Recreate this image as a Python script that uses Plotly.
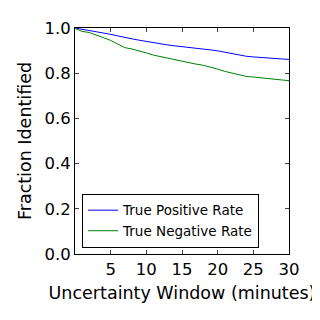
import plotly.graph_objects as go

minutes = list(range(0, 31))
tpr = [1.0, 0.995, 0.99, 0.985, 0.98, 0.972, 0.965, 0.957, 0.952, 0.946, 0.94,
       0.935, 0.93, 0.925, 0.921, 0.918, 0.914, 0.911, 0.907, 0.903, 0.899,
       0.893, 0.886, 0.88, 0.875, 0.872, 0.869, 0.867, 0.865, 0.863, 0.861]
tnr = [0.998, 0.985, 0.98, 0.97, 0.957, 0.945, 0.93, 0.913, 0.907, 0.9, 0.89,
       0.88, 0.873, 0.866, 0.86, 0.852, 0.847, 0.84, 0.835, 0.828, 0.818,
       0.808, 0.8, 0.792, 0.786, 0.783, 0.779, 0.776, 0.772, 0.77, 0.767]
x_ticks = [5, 10, 15, 20, 25, 30]
y_ticks = [0.0, 0.2, 0.4, 0.6, 0.8, 1.0]

fig = go.Figure()
fig.add_trace(go.Scatter(x=minutes, y=tpr, mode="lines", name="True Positive Rate",
                         line=dict(color="#0000ff", width=1)))
fig.add_trace(go.Scatter(x=minutes, y=tnr, mode="lines", name="True Negative Rate",
                         line=dict(color="#008000", width=1)))

font = "DejaVu Sans"
fig.update_layout(
    width=312, height=312,
    margin=dict(l=67, r=31, t=20, b=66),
    paper_bgcolor="white", plot_bgcolor="white",
    font=dict(family=font, size=16, color="black"),
    showlegend=True,
    legend=dict(x=0.033, y=0.027, xanchor="left", yanchor="bottom",
                bordercolor="black", borderwidth=1, bgcolor="white",
                font=dict(family=font, size=13.5), itemwidth=30,
                tracegroupgap=0),
)
fig.update_xaxes(range=[0, 30], tickvals=x_ticks, ticks="inside", ticklen=4,
                 showgrid=False, zeroline=False, showline=True, linecolor="black",
                 linewidth=1, mirror="ticks", tickfont=dict(size=16.5),
                 title=dict(text="Uncertainty Window (minutes)", font=dict(size=17.5), standoff=8))
fig.update_yaxes(range=[0, 1.0], tickvals=y_ticks, tickformat=".1f", ticks="inside", ticklen=4,
                 showgrid=False, zeroline=False, showline=True, linecolor="black",
                 linewidth=1, mirror="ticks", tickfont=dict(size=16.5),
                 title=dict(text="Fraction Identified", font=dict(size=17.5), standoff=8))

fig.write_html("out.html")
